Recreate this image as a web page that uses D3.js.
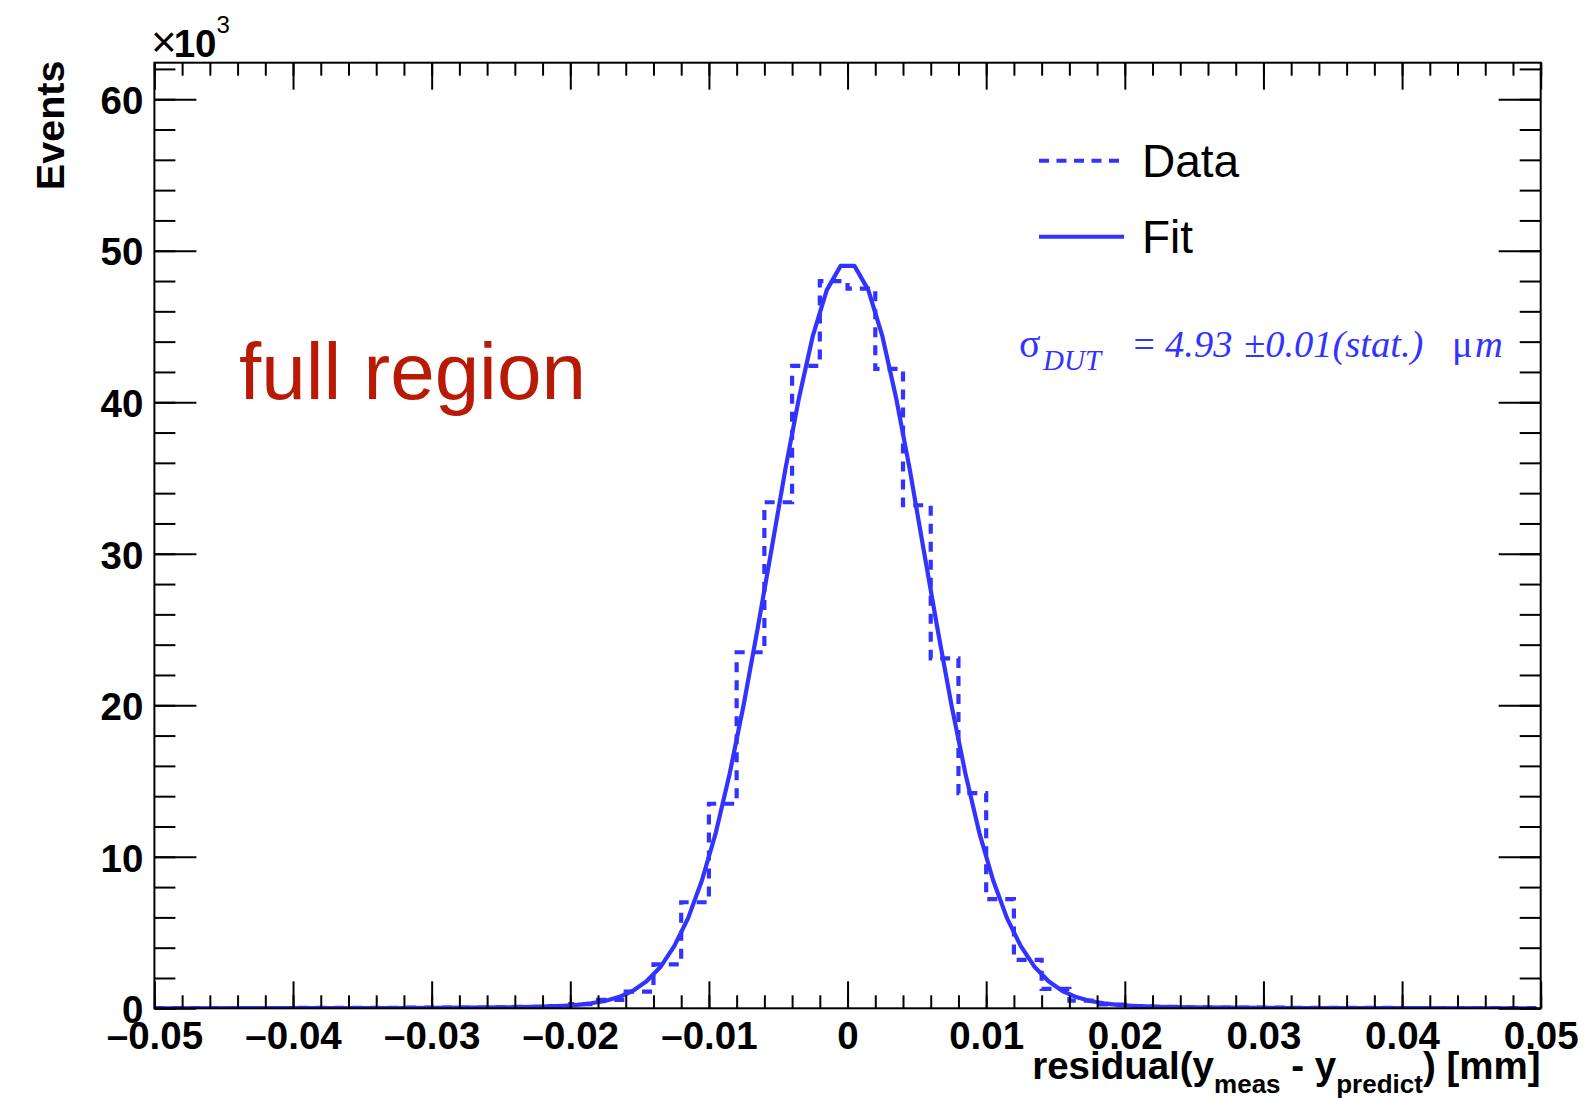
<!DOCTYPE html>
<html>
<head>
<meta charset="utf-8">
<script src="https://cdn.jsdelivr.net/npm/d3@7"></script>
<style>
  html, body { margin: 0; padding: 0; background: #ffffff; }
  svg { display: block; }
</style>
</head>
<body>
<svg id="chart" width="1584" height="1099"></svg>
<script>
// ---------------- DATA ----------------
const xDomain = [-0.05, 0.05];
const yDomain = [0, 62.41];           // in units of 10^3 events
const nBins = 50;                      // bin width 0.002 mm

// Histogram contents (x10^3 events), bins from -0.05 to 0.05
const histValues = [
  0.02, 0.02, 0.02, 0.02, 0.02, 0.03, 0.03, 0.03, 0.03, 0.04,
  0.04, 0.05, 0.07, 0.10, 0.15, 0.28, 0.55, 1.10, 2.90, 7.00,
  13.5, 23.5, 33.4, 42.4, 48.0, 47.5, 42.2, 33.2, 23.1, 14.2,
  7.20, 3.20, 1.28, 0.50, 0.25, 0.13, 0.09, 0.06, 0.05, 0.04,
  0.04, 0.03, 0.03, 0.03, 0.03, 0.02, 0.02, 0.02, 0.02, 0.02
];

// Fit curve sample points (mm) and values (x10^3 events)
const fitX = [
  -0.0495, -0.0395, -0.0325, -0.0275, -0.0245, -0.0225, -0.0215, -0.0205, -0.0195, -0.0185,
  -0.0175, -0.0165, -0.0155, -0.0145, -0.0135, -0.0125, -0.0115, -0.0105, -0.0095, -0.0085,
  -0.0075, -0.0065, -0.0055, -0.0045, -0.0035, -0.0025, -0.0015, -0.0005,
  0.0005, 0.0015, 0.0025, 0.0035, 0.0045, 0.0055, 0.0065, 0.0075, 0.0085, 0.0095,
  0.0105, 0.0115, 0.0125, 0.0135, 0.0145, 0.0155, 0.0165, 0.0175, 0.0185, 0.0195,
  0.0205, 0.0215, 0.0225, 0.0245, 0.0275, 0.0325, 0.0395, 0.0495
];
const fitY = [
  0.00, 0.01, 0.02, 0.04, 0.06, 0.10, 0.13, 0.17, 0.23, 0.33,
  0.48, 0.74, 1.14, 1.78, 2.72, 4.10, 5.95, 8.45, 11.6, 15.5,
  20.0, 25.0, 30.2, 35.5, 40.3, 44.4, 47.4, 49.0,
  49.0, 47.4, 44.4, 40.3, 35.5, 30.2, 25.0, 20.0, 15.5, 11.6,
  8.45, 5.95, 4.10, 2.72, 1.78, 1.14, 0.74, 0.48, 0.33, 0.23,
  0.17, 0.13, 0.10, 0.06, 0.04, 0.02, 0.01, 0.00
];

const xMajorTicks = [-0.05, -0.04, -0.03, -0.02, -0.01, 0, 0.01, 0.02, 0.03, 0.04, 0.05];
const xTickLabels = ["\u20130.05", "\u20130.04", "\u20130.03", "\u20130.02", "\u20130.01", "0", "0.01", "0.02", "0.03", "0.04", "0.05"];
const yMajorTicks = [0, 10, 20, 30, 40, 50, 60];
const yTickLabels = ["0", "10", "20", "30", "40", "50", "60"];

const legendLabels = ["Data", "Fit"];
const xTitle = ["residual(y", "meas", " - y", "predict", ") [mm]"];
const yTitle = "Events";
const regionLabel = "full region";

// ---------------- LAYOUT ----------------
const L = 154.4, R = 1540.7, T = 62.7, B = 1008.3;
const blue = "#3333ff";
const sans = "'Liberation Sans', Arial, Helvetica, sans-serif";
const serif = "'Liberation Serif', 'Times New Roman', Times, serif";

const svg = d3.select("#chart");
const x = d3.scaleLinear().domain(xDomain).range([L, R]);
const y = d3.scaleLinear().domain(yDomain).range([B, T]);

// minor tick positions
const binW = (xDomain[1] - xDomain[0]) / nBins;
const xMinor = d3.range(0, nBins + 1).map(i => xDomain[0] + i * binW);
const yMinor = d3.range(0, 32).map(i => i * 2);

svg.append("defs").append("clipPath").attr("id", "frameClip")
  .append("rect").attr("x", L).attr("y", T).attr("width", R - L).attr("height", B - T);

const plot = svg.append("g").attr("clip-path", "url(#frameClip)");

// Histogram as step line
const histPts = [];
histValues.forEach((v, i) => {
  const x0 = xDomain[0] + i * binW, x1 = x0 + binW;
  histPts.push([x0, v], [x1, v]);
});
plot.append("path")
  .datum(histPts)
  .attr("fill", "none")
  .attr("stroke", blue)
  .attr("stroke-width", 4.2)
  .attr("stroke-dasharray", "10,8")
  .attr("d", d3.line().x(d => x(d[0])).y(d => y(d[1])));

// Fit curve
plot.append("path")
  .datum(fitX.map((v, i) => [v, fitY[i]]))
  .attr("fill", "none")
  .attr("stroke", blue)
  .attr("stroke-width", 4.2)
  .attr("stroke-linejoin", "round")
  .attr("d", d3.line().x(d => x(d[0])).y(d => y(d[1])));

// ---------------- AXES ----------------
function styleTicks(g) {
  g.select(".domain").remove();
  g.selectAll(".tick line").attr("stroke", "#000").attr("stroke-width", 2);
  g.selectAll(".tick text").remove();
}
// bottom
svg.append("g").attr("transform", `translate(0,${B})`)
  .call(d3.axisTop(x).tickValues(xMinor).tickSize(13).tickFormat("")).call(styleTicks);
svg.append("g").attr("transform", `translate(0,${B})`)
  .call(d3.axisTop(x).tickValues(xMajorTicks).tickSize(27).tickFormat("")).call(styleTicks);
// top
svg.append("g").attr("transform", `translate(0,${T})`)
  .call(d3.axisBottom(x).tickValues(xMinor).tickSize(13).tickFormat("")).call(styleTicks);
svg.append("g").attr("transform", `translate(0,${T})`)
  .call(d3.axisBottom(x).tickValues(xMajorTicks).tickSize(27).tickFormat("")).call(styleTicks);
// left
svg.append("g").attr("transform", `translate(${L},0)`)
  .call(d3.axisRight(y).tickValues(yMinor).tickSize(21).tickFormat("")).call(styleTicks);
svg.append("g").attr("transform", `translate(${L},0)`)
  .call(d3.axisRight(y).tickValues(yMajorTicks).tickSize(42).tickFormat("")).call(styleTicks);
// right
svg.append("g").attr("transform", `translate(${R},0)`)
  .call(d3.axisLeft(y).tickValues(yMinor).tickSize(21).tickFormat("")).call(styleTicks);
svg.append("g").attr("transform", `translate(${R},0)`)
  .call(d3.axisLeft(y).tickValues(yMajorTicks).tickSize(42).tickFormat("")).call(styleTicks);

// tick labels
const xLab = svg.append("g").attr("transform", `translate(0,${B})`)
  .call(d3.axisBottom(x).tickValues(xMajorTicks).tickSize(0)
    .tickFormat((d, i) => xTickLabels[i]));
xLab.select(".domain").remove();
xLab.selectAll(".tick text")
  .attr("y", 40.5).attr("dy", 0)
  .attr("font-family", sans).attr("font-weight", "bold").attr("font-size", 38.5).attr("fill", "#000");

const yLab = svg.append("g").attr("transform", `translate(${L},0)`)
  .call(d3.axisLeft(y).tickValues(yMajorTicks).tickSize(0).tickPadding(11)
    .tickFormat((d, i) => yTickLabels[i]));
yLab.select(".domain").remove();
yLab.selectAll(".tick text")
  .attr("dy", "0.37em")
  .attr("font-family", sans).attr("font-weight", "bold").attr("font-size", 38.5).attr("fill", "#000");

// frame
svg.append("rect").attr("x", L).attr("y", T).attr("width", R - L).attr("height", B - T)
  .attr("fill", "none").attr("stroke", "#000").attr("stroke-width", 2);

// x10^3
const mult = svg.append("text").attr("x", 151).attr("y", 57)
  .attr("font-family", sans).attr("font-size", 38.5).attr("fill", "#000");
mult.append("tspan").attr("font-weight", "normal").attr("font-size", 44).text("\u00d7");
mult.append("tspan").attr("font-weight", "bold").attr("dx", -3).text("10");
mult.append("tspan").attr("font-size", 24).attr("dy", -24).text("3");

// axis titles
svg.append("text")
  .attr("transform", "translate(63.5,60.6) rotate(-90)")
  .attr("text-anchor", "end")
  .attr("font-family", sans).attr("font-weight", "bold").attr("font-size", 39.5)
  .text(yTitle);

const xt = svg.append("text")
  .attr("x", 1540.5).attr("y", 1079).attr("text-anchor", "end")
  .attr("font-family", sans).attr("font-weight", "bold").attr("font-size", 38.5);
xt.append("tspan").text(xTitle[0]);
xt.append("tspan").attr("font-size", 26).attr("dy", 14).text(xTitle[1]);
xt.append("tspan").attr("dy", -14).text(xTitle[2]);
xt.append("tspan").attr("font-size", 26).attr("dy", 14).text(xTitle[3]);
xt.append("tspan").attr("dy", -14).text(xTitle[4]);

// legend
const legend = svg.append("g");
legend.append("line").attr("x1", 1039).attr("x2", 1122).attr("y1", 160.7).attr("y2", 160.7)
  .attr("stroke", blue).attr("stroke-width", 4).attr("stroke-dasharray", "10,7.5");
legend.append("line").attr("x1", 1039).attr("x2", 1124).attr("y1", 236.7).attr("y2", 236.7)
  .attr("stroke", blue).attr("stroke-width", 4);
legend.append("text").attr("x", 1142).attr("y", 176.7)
  .attr("font-family", sans).attr("font-size", 46).attr("fill", "#000").text(legendLabels[0]);
legend.append("text").attr("x", 1142).attr("y", 252.7)
  .attr("font-family", sans).attr("font-size", 46).attr("fill", "#000").text(legendLabels[1]);

// sigma annotation
const sig = svg.append("g").attr("fill", blue).attr("font-family", serif);
sig.append("text").attr("x", 1019).attr("y", 356.7).attr("font-size", 40).text("\u03c3");
sig.append("text").attr("x", 1043).attr("y", 370).attr("font-size", 29).attr("font-style", "italic").text("DUT");
sig.append("text").attr("x", 1131).attr("y", 356.7).attr("font-size", 38).attr("font-style", "italic").text("=");
sig.append("text").attr("x", 1165).attr("y", 356.7).attr("font-size", 38.5).attr("font-style", "italic").text("4.93");
sig.append("text").attr("x", 1244).attr("y", 356.7).attr("font-size", 38.5).attr("font-style", "italic").text("\u00b10.01(stat.)");
sig.append("text").attr("x", 1452).attr("y", 356.7).attr("font-size", 38.5).text("\u03bc");
sig.append("text").attr("x", 1475).attr("y", 356.7).attr("font-size", 38.5).attr("font-style", "italic").text("m");

// region label
svg.append("text").attr("x", 239).attr("y", 398.5)
  .attr("font-family", sans).attr("font-size", 80).attr("fill", "#b81a06")
  .text(regionLabel);
</script>
</body>
</html>
